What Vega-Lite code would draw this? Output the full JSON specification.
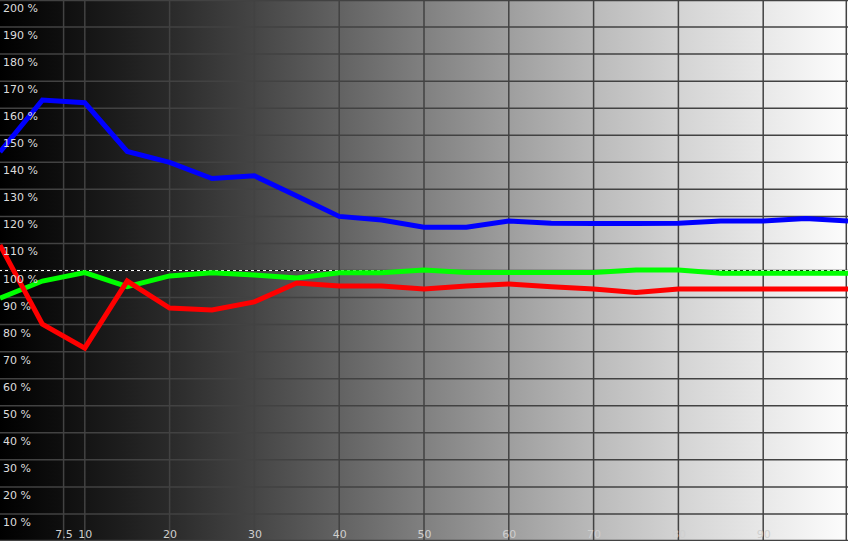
{
  "$schema": "https://vega.github.io/schema/vega-lite/v6.json",
  "width": 848,
  "height": 541,
  "padding": 0,
  "autosize": {"type": "none"},
  "background": "#000000",
  "config": {
    "view": {"stroke": null},
    "axisX": {"grid": false, "ticks": false, "domain": false, "title": null, "labelColor": "#cfcfcf", "labelFont": "DejaVu Sans", "labelFontSize": 11, "labelBaseline": "alphabetic", "labelPadding": -4, "labelOverlap": false, "labelFlush": false},
    "axisY": {"grid": false, "ticks": false, "domain": false, "title": null, "labels": false}
  },
  "datasets": {
    "series": [
      {"ch": "B", "x": 0, "y": 143.8}, {"ch": "B", "x": 5, "y": 163}, {"ch": "B", "x": 10, "y": 162}, {"ch": "B", "x": 15, "y": 144}, {"ch": "B", "x": 20, "y": 140}, {"ch": "B", "x": 25, "y": 134}, {"ch": "B", "x": 30, "y": 135}, {"ch": "B", "x": 35, "y": 127.5}, {"ch": "B", "x": 40, "y": 120}, {"ch": "B", "x": 45, "y": 118.7}, {"ch": "B", "x": 50, "y": 116}, {"ch": "B", "x": 55, "y": 116}, {"ch": "B", "x": 60, "y": 118.3}, {"ch": "B", "x": 65, "y": 117.5}, {"ch": "B", "x": 70, "y": 117.4}, {"ch": "B", "x": 75, "y": 117.4}, {"ch": "B", "x": 80, "y": 117.5}, {"ch": "B", "x": 85, "y": 118.3}, {"ch": "B", "x": 90, "y": 118.3}, {"ch": "B", "x": 95, "y": 119.2}, {"ch": "B", "x": 100, "y": 118.3},
      {"ch": "G", "x": 0, "y": 89.8}, {"ch": "G", "x": 5, "y": 96.1}, {"ch": "G", "x": 10, "y": 99.2}, {"ch": "G", "x": 15, "y": 94}, {"ch": "G", "x": 20, "y": 98}, {"ch": "G", "x": 25, "y": 99.2}, {"ch": "G", "x": 30, "y": 98.3}, {"ch": "G", "x": 35, "y": 97.2}, {"ch": "G", "x": 40, "y": 99.2}, {"ch": "G", "x": 45, "y": 99.2}, {"ch": "G", "x": 50, "y": 100.2}, {"ch": "G", "x": 55, "y": 99.3}, {"ch": "G", "x": 60, "y": 99.3}, {"ch": "G", "x": 65, "y": 99.3}, {"ch": "G", "x": 70, "y": 99.3}, {"ch": "G", "x": 75, "y": 100.2}, {"ch": "G", "x": 80, "y": 100.2}, {"ch": "G", "x": 85, "y": 99}, {"ch": "G", "x": 90, "y": 99}, {"ch": "G", "x": 95, "y": 99}, {"ch": "G", "x": 100, "y": 99},
      {"ch": "R", "x": 0, "y": 109.4}, {"ch": "R", "x": 5, "y": 80.2}, {"ch": "R", "x": 10, "y": 71.3}, {"ch": "R", "x": 15, "y": 96.1}, {"ch": "R", "x": 20, "y": 86.1}, {"ch": "R", "x": 25, "y": 85.4}, {"ch": "R", "x": 30, "y": 88.4}, {"ch": "R", "x": 35, "y": 95.4}, {"ch": "R", "x": 40, "y": 94.3}, {"ch": "R", "x": 45, "y": 94.3}, {"ch": "R", "x": 50, "y": 93.2}, {"ch": "R", "x": 55, "y": 94.3}, {"ch": "R", "x": 60, "y": 95}, {"ch": "R", "x": 65, "y": 94}, {"ch": "R", "x": 70, "y": 93.2}, {"ch": "R", "x": 75, "y": 91.9}, {"ch": "R", "x": 80, "y": 93.2}, {"ch": "R", "x": 85, "y": 93.2}, {"ch": "R", "x": 90, "y": 93.2}, {"ch": "R", "x": 95, "y": 93.2}, {"ch": "R", "x": 100, "y": 93.2}
    ],
    "gridx": [{"v": 7.5}, {"v": 10}, {"v": 20}, {"v": 30}, {"v": 40}, {"v": 50}, {"v": 60}, {"v": 70}, {"v": 80}, {"v": 90}, {"v": 99.8}],
    "gridy": [{"v": 10}, {"v": 20}, {"v": 30}, {"v": 40}, {"v": 50}, {"v": 60}, {"v": 70}, {"v": 80}, {"v": 90}, {"v": 100}, {"v": 110}, {"v": 120}, {"v": 130}, {"v": 140}, {"v": 150}, {"v": 160}, {"v": 170}, {"v": 180}, {"v": 190}, {"v": 199.8}, {"v": 0.2}],
    "ylabels": [{"v": 10, "t": "10 %"}, {"v": 20, "t": "20 %"}, {"v": 30, "t": "30 %"}, {"v": 40, "t": "40 %"}, {"v": 50, "t": "50 %"}, {"v": 60, "t": "60 %"}, {"v": 70, "t": "70 %"}, {"v": 80, "t": "80 %"}, {"v": 90, "t": "90 %"}, {"v": 100, "t": "100 %"}, {"v": 110, "t": "110 %"}, {"v": 120, "t": "120 %"}, {"v": 130, "t": "130 %"}, {"v": 140, "t": "140 %"}, {"v": 150, "t": "150 %"}, {"v": 160, "t": "160 %"}, {"v": 170, "t": "170 %"}, {"v": 180, "t": "180 %"}, {"v": 190, "t": "190 %"}, {"v": 200, "t": "200 %"}]
  },
  "layer": [
    {
      "data": {"values": [{"a": 1}]},
      "mark": {
        "type": "rect",
        "fill": {
          "gradient": "linear", "x1": 0, "y1": 0, "x2": 1, "y2": 0,
          "stops": [
            {"offset": 0, "color": "#000000"},
            {"offset": 0.1, "color": "#141414"},
            {"offset": 0.2, "color": "#2a2a2a"},
            {"offset": 0.3, "color": "#454545"},
            {"offset": 0.4, "color": "#626262"},
            {"offset": 0.5, "color": "#808080"},
            {"offset": 0.6, "color": "#9e9e9e"},
            {"offset": 0.7, "color": "#bababa"},
            {"offset": 0.8, "color": "#d3d3d3"},
            {"offset": 0.9, "color": "#e8e8e8"},
            {"offset": 1, "color": "#fdfdfd"}
          ]
        }
      },
      "encoding": {
        "x": {"datum": 0, "type": "quantitative", "scale": {"domain": [0, 100], "nice": false, "zero": false},
              "axis": {"values": [7.5, 10, 20, 30, 40, 50, 60, 70, 80, 90], "labelExpr": "'' + datum.value",
                       "grid": false, "ticks": false, "domain": false, "title": null, "labelColor": "#cfcfcf", "labelFont": "DejaVu Sans", "labelFontSize": 11, "labelBaseline": "alphabetic", "labelPadding": -4, "labelOverlap": false, "labelFlush": false, "zindex": 2}},
        "x2": {"datum": 100},
        "y": {"datum": 0, "type": "quantitative", "scale": {"domain": [0, 200], "nice": false, "zero": false},
              "axis": {"labels": false, "grid": false, "ticks": false, "domain": false, "title": null}},
        "y2": {"datum": 200}
      }
    },
    {
      "data": {"name": "gridx"},
      "mark": {"type": "rule", "color": "#424242", "strokeWidth": 1.5},
      "encoding": {"x": {"field": "v", "type": "quantitative"}}
    },
    {
      "data": {"name": "gridy"},
      "mark": {"type": "rule", "color": "#424242", "strokeWidth": 1.5},
      "encoding": {"y": {"field": "v", "type": "quantitative"}}
    },
    {
      "data": {"values": [{"v": 100}]},
      "mark": {"type": "rule", "color": "#ffffff", "strokeWidth": 1, "strokeDash": [3, 3]},
      "encoding": {"y": {"field": "v", "type": "quantitative"}}
    },
    {
      "data": {"values": [{"v": 100}]},
      "mark": {"type": "rule", "color": "#000000", "strokeWidth": 1, "strokeDash": [3, 3], "strokeDashOffset": 3},
      "encoding": {"y": {"field": "v", "type": "quantitative"}}
    },
    {
      "data": {"name": "series"},
      "transform": [{"filter": "datum.ch === 'B'"}],
      "mark": {"type": "line", "color": "#0000ff", "strokeWidth": 5},
      "encoding": {"x": {"field": "x", "type": "quantitative"}, "y": {"field": "y", "type": "quantitative"}}
    },
    {
      "data": {"name": "series"},
      "transform": [{"filter": "datum.ch === 'G'"}],
      "mark": {"type": "line", "color": "#00ff00", "strokeWidth": 5},
      "encoding": {"x": {"field": "x", "type": "quantitative"}, "y": {"field": "y", "type": "quantitative"}}
    },
    {
      "data": {"name": "series"},
      "transform": [{"filter": "datum.ch === 'R'"}],
      "mark": {"type": "line", "color": "#ff0000", "strokeWidth": 5},
      "encoding": {"x": {"field": "x", "type": "quantitative"}, "y": {"field": "y", "type": "quantitative"}}
    },
    {
      "data": {"name": "ylabels"},
      "mark": {"type": "text", "align": "left", "baseline": "alphabetic", "dx": 3, "dy": 12, "font": "DejaVu Sans", "fontSize": 11, "color": "#dcdcdc"},
      "encoding": {"x": {"datum": 0, "type": "quantitative"}, "y": {"field": "v", "type": "quantitative"}, "text": {"field": "t"}}
    }
  ]
}
